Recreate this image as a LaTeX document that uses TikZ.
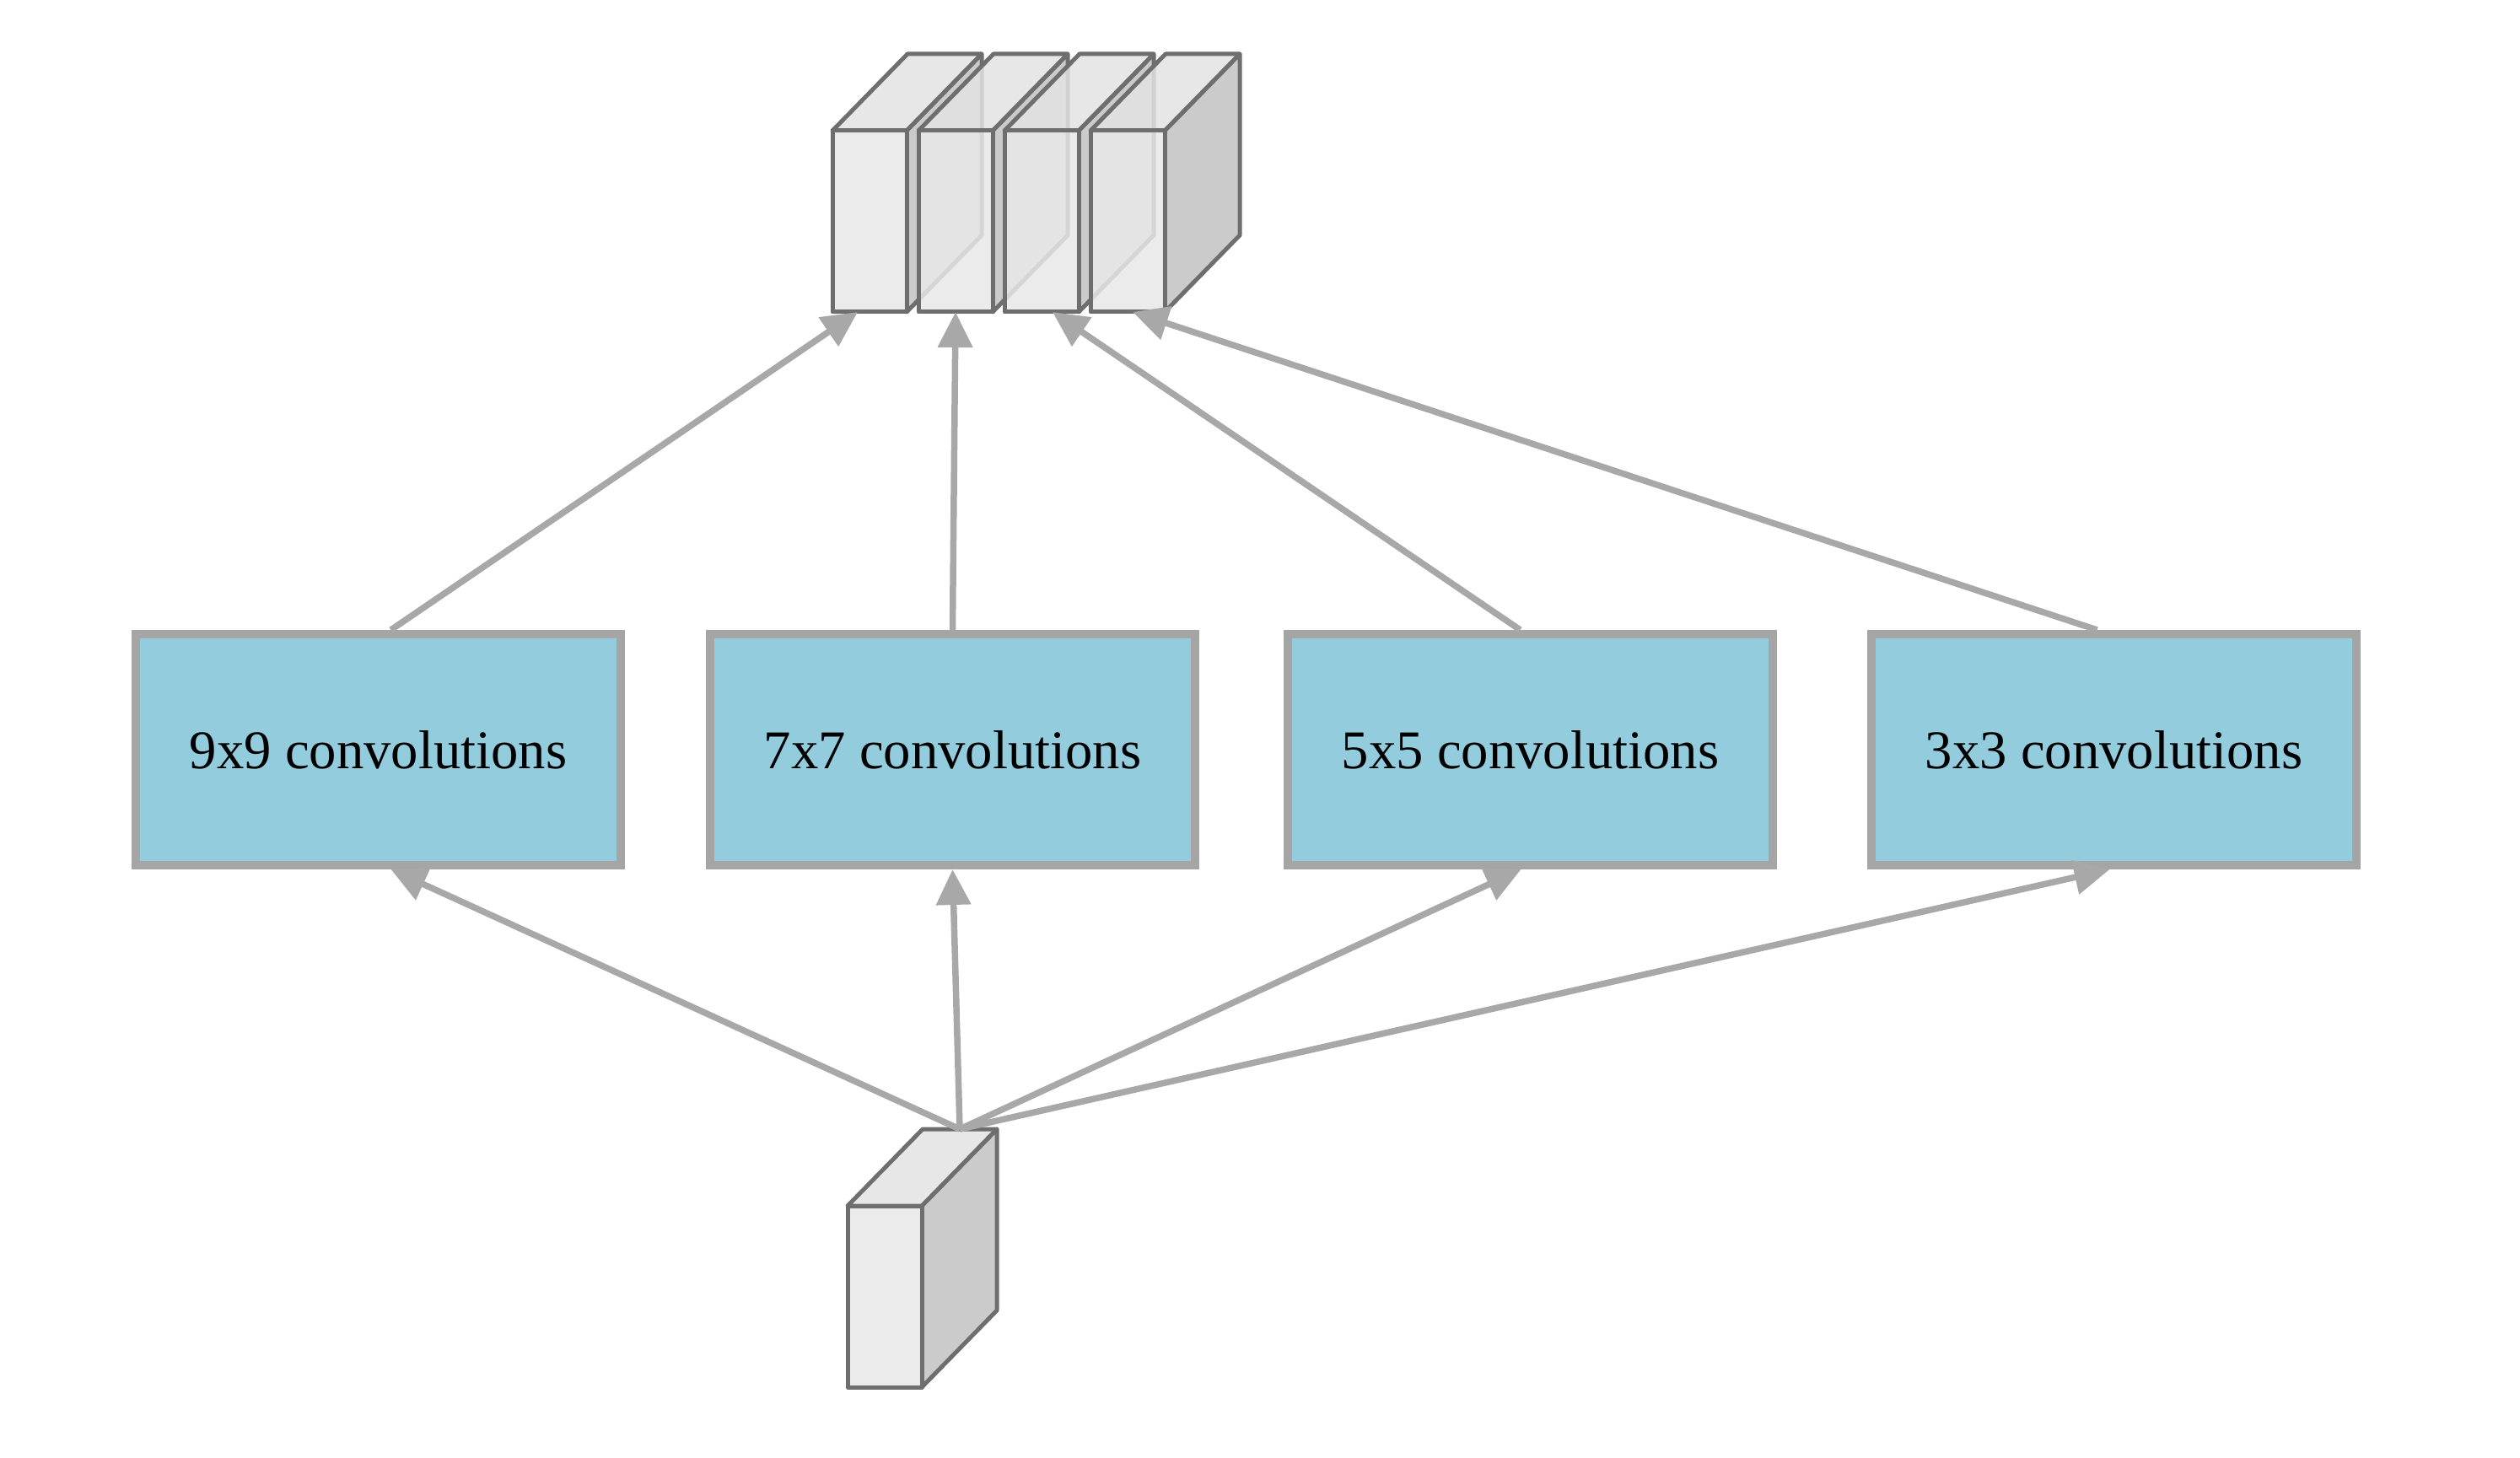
\documentclass[tikz,border=0pt]{standalone}
\usepackage{fontspec}
\setmainfont{Liberation Serif}
\usetikzlibrary{arrows.meta}
\definecolor{convblue}{HTML}{93CCDD}
\definecolor{convedge}{HTML}{A5A5A5}
\definecolor{arrowgray}{HTML}{A8A8A8}
\definecolor{mapedge}{HTML}{6E6E6E}
\definecolor{mapfront}{HTML}{E8E8E8}
\definecolor{maptop}{HTML}{E3E3E3}
\definecolor{mapside}{HTML}{C2C2C2}
\newcommand{\featmap}[3]{%
  \draw[face, fill=mapside] (#1+0.88,#2) -- ++(0.89,0.91) -- ++(0,2.15) -- ++(-0.89,-0.91) -- cycle;
  \draw[face, fill=maptop] (#1,#2+2.15) -- ++(0.89,0.91) -- ++(0.88,0) -- ++(-0.89,-0.91) -- cycle;
  \draw[face, fill=mapfront] (#1,#2) rectangle ++(0.88,2.15);
  \coordinate (#3-b) at (#1+0.44,#2);
  \coordinate (#3-t) at (#1+1.33,#2+3.06);
}
\begin{document}
\begin{tikzpicture}[
    conv/.style={draw=convedge, line width=0.1cm, fill=convblue, minimum width=5.75cm, minimum height=2.74cm, inner sep=0pt, font=\fontsize{18.4}{22}\selectfont},
    arr/.style={draw=arrowgray, line width=0.075cm, -{Triangle[length=0.42cm,width=0.4cm]}},
    face/.style={draw=mapedge, line width=0.05cm, line join=round, fill opacity=0.85}
]
\useasboundingbox (0,0) rectangle (29.88,17.28);

\foreach \i in {1,2,3,4}
    {\featmap{8.85+1.02*\i}{13.58}{out\i}}
\featmap{10.05}{0.83}{in}

\node[conv] (c9) at (4.485,8.39) {9x9 convolutions};
\node[conv] (c7) at (11.295,8.39) {7x7 convolutions};
\node[conv] (c5) at (18.145,8.39) {5x5 convolutions};
\node[conv] (c3) at (25.065,8.39) {3x3 convolutions};

\draw[arr] (in-t) -- ([xshift=0.15cm]c9.south);
\draw[arr] (in-t) -- (c7.south);
\draw[arr] (in-t) -- ([xshift=-0.11cm]c5.south);
\draw[arr] (in-t) -- ([xshift=-0.05cm]c3.south);

\draw[arr] ([xshift=0.15cm]c9.north) -- ([xshift=-0.14cm]out1-b);
\draw[arr] (c7.north) -- (out2-b);
\draw[arr] ([xshift=-0.12cm]c5.north) -- ([xshift=0.13cm]out3-b);
\draw[arr] ([xshift=-0.2cm]c3.north) -- ([xshift=0.06cm]out4-b);
\end{tikzpicture}
\end{document}
